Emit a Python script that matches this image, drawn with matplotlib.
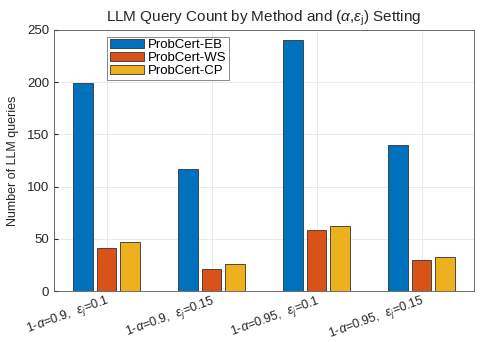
import matplotlib
matplotlib.use("Agg")
import matplotlib.pyplot as plt
import numpy as np

categories = ["1-$\\alpha$=0.9,  $\\epsilon_j$=0.1", "1-$\\alpha$=0.9,  $\\epsilon_j$=0.15",
              "1-$\\alpha$=0.95,  $\\epsilon_j$=0.1", "1-$\\alpha$=0.95,  $\\epsilon_j$=0.15"]
methods = ["ProbCert-EB", "ProbCert-WS", "ProbCert-CP"]
eb = [199, 117, 240, 140]
ws = [41, 21, 58, 30]
cp = [47, 26, 62, 33]
colors = ["#0072BD", "#D95319", "#EDB120"]

plt.rcParams['font.family'] = ['Liberation Sans', 'DejaVu Sans']
plt.rcParams['mathtext.fontset'] = 'custom'
plt.rcParams['mathtext.it'] = 'Liberation Sans:italic'
plt.rcParams['mathtext.rm'] = 'Liberation Sans'

fig = plt.figure(figsize=(4.8, 3.42), dpi=100)
ax = fig.add_axes([54/480, 1-291/342, 420/480, 261/342])
x = np.arange(1, 5)
w = 0.185
off = 0.225
for i, (vals, c, m) in enumerate(zip([eb, ws, cp], colors, methods)):
    ax.bar(x + (i-1)*off, vals, w, color=c, edgecolor="#333333", linewidth=0.6, label=m, zorder=3)

ax.set_xlim(0.5, 4.5)
ax.set_ylim(0, 250)
ax.set_yticks([0, 50, 100, 150, 200, 250])
ax.set_xticks(x)
ax.set_xticklabels(categories, rotation=20, ha='right', rotation_mode='anchor', fontsize=9, color="#262626")
ax.tick_params(axis='y', labelsize=9.5, colors="#262626", direction='in', length=3)
ax.tick_params(axis='x', direction='in', length=3, colors="#262626", pad=1)
ax.grid(True, color="#e6e6e6", linewidth=0.6, zorder=0)
ax.set_axisbelow(True)
for s in ax.spines.values():
    s.set_color("#555555")
    s.set_linewidth(0.6)
ax.set_ylabel("Number of LLM queries", fontsize=9, color="#262626", labelpad=6)
ax.set_title("LLM Query Count by Method and ($\\alpha$,$\\epsilon_{\\mathrm{j}}$) Setting", fontsize=11, color="#262626")
leg = ax.legend(loc='upper left', bbox_to_anchor=(0.12, 0.985), fontsize=9.5, frameon=True, fancybox=False,
                edgecolor="#555555", borderpad=0.2, labelspacing=0.05, handlelength=2.6, handletextpad=0.3, borderaxespad=0.2)
leg.get_frame().set_linewidth(0.6)
fig.savefig("out.png", dpi=100)
